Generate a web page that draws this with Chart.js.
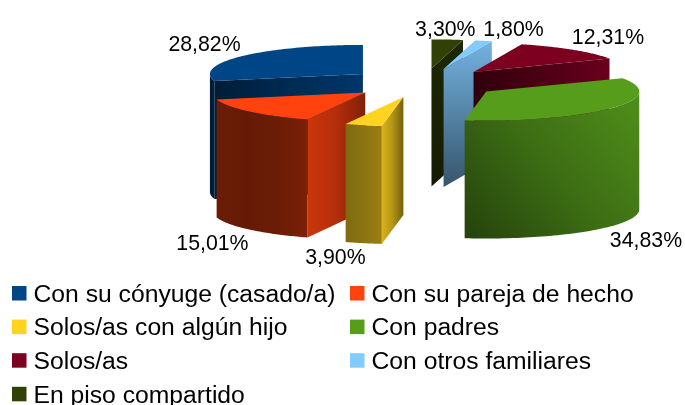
<!DOCTYPE html>
<html>
<head>
<meta charset="utf-8">
<script src="https://cdn.jsdelivr.net/npm/chart.js@4"></script>
<style>
html,body{margin:0;padding:0;background:#fff}
#wrap{position:relative;width:685px;height:405px}
</style>
</head>
<body>
<div id="wrap"><canvas id="c" width="685" height="405"></canvas></div>
<script>
const categories = ["Con su cónyuge (casado/a)","Con su pareja de hecho","Solos/as con algún hijo","Con padres","Solos/as","Con otros familiares","En piso compartido"];
const values = [28.82,15.01,3.90,34.83,12.31,1.80,3.30];
const colors = ["#004586","#ff420e","#ffd320","#579d1c","#7e0021","#83caff","#314004"];

const TILT = 0.19, DEPTH = 118, EXPLODE = 77, FONT = "Liberation Sans, Arial, sans-serif";
const arcShade = [
  {m:'h',s:[.40,.45]},
  {m:'h',s:[.42,.40,.42,.48]},
  {m:'h',s:[.50,.55,.60]},
  {m:'d',s:[.42,.70,.92]},
  {m:'h',s:[.5,.5]},
  {m:'v',s:[.9,.5]},
  {m:'v',s:[.6,.5]}
];
const cutShade = [
  {m:'h',s:[.42,.55,.68,.78]},
  {m:'h',s:[.80,.70,.50]},
  {m:'h',s:[.85,.70,.45]},
  {m:'h',s:[.5,.5]},
  {m:'h',s:[.38,.60,.85]},
  {m:'v',s:[.88,.42]},
  {m:'v',s:[.62,.42]}
];
const labelNudge = [[-38,-11],[-37,15],[-28,15],[35,15],[35,-12],[30,-11],[-2,-9]];

function shade(hex,f){
  const n=parseInt(hex.slice(1),16);
  return `rgb(${Math.round((n>>16&255)*f)},${Math.round((n>>8&255)*f)},${Math.round((n&255)*f)})`;
}
function fillPoly(ctx,pts,fill){
  ctx.beginPath();
  pts.forEach((p,i)=>i?ctx.lineTo(p[0],p[1]):ctx.moveTo(p[0],p[1]));
  ctx.closePath();ctx.fillStyle=fill;ctx.fill();
}
function grad(ctx,pts,spec,color){
  const xs=pts.map(p=>p[0]),ys=pts.map(p=>p[1]);
  const x0=Math.min(...xs),x1=Math.max(...xs),y0=Math.min(...ys),y1=Math.max(...ys);
  const g = spec.m==='h'?ctx.createLinearGradient(x0,0,x1,0)
          : spec.m==='v'?ctx.createLinearGradient(0,y0,0,y1)
          : ctx.createLinearGradient(x0,y1,x1,y0);
  spec.s.forEach((f,i)=>g.addColorStop(i/(spec.s.length-1),shade(color,f)));
  return g;
}

const pie3d = {
  id:'pie3d',
  beforeDatasetsDraw(chart){
    const ctx=chart.ctx, arcs=chart.getDatasetMeta(0).data;
    const order=arcs.map((a,i)=>i).sort((p,q)=>{
      const mid=a=>(a.startAngle+a.endAngle)/2;
      return Math.sin(mid(arcs[p]))-Math.sin(mid(arcs[q]));
    });
    ctx.save();
    order.forEach(i=>{
      const el=arcs[i], R=el.outerRadius, a0=el.startAngle, a1=el.endAngle, mid=(a0+a1)/2;
      const off=EXPLODE, color=colors[i];
      const P=(a,r)=>[el.x-(r*Math.cos(a)+off*Math.cos(mid)), el.y+TILT*(r*Math.sin(a)+off*Math.sin(mid))];
      const apex=P(0,0);
      const down=p=>[p[0],p[1]+DEPTH];
      const cut=a=>{const e=P(a,R);return [apex,e,down(e),down(apex)];};
      if(-Math.cos(a0)>1e-6){const q=cut(a0);fillPoly(ctx,q,grad(ctx,q,cutShade[i],color));}
      if(Math.cos(a1)>1e-6){const q=cut(a1);fillPoly(ctx,q,grad(ctx,q,cutShade[i],color));}
      const ranges=[[0,Math.PI],[2*Math.PI,3*Math.PI],[-2*Math.PI,-Math.PI]];
      ranges.forEach(([lo,hi])=>{
        const s=Math.max(a0,lo),e=Math.min(a1,hi);
        if(e<=s)return;
        const top=[];
        for(let k=0;k<=60;k++)top.push(P(s+(e-s)*k/60,R));
        const q=top.concat(top.slice().reverse().map(down));
        fillPoly(ctx,q,grad(ctx,q,arcShade[i],color));
      });
      const face=[apex];
      for(let k=0;k<=80;k++)face.push(P(a0+(a1-a0)*k/80,R));
      fillPoly(ctx,face,color);
    });
    ctx.restore();
    return false;
  },
  afterDraw(chart){
    const ctx=chart.ctx, arcs=chart.getDatasetMeta(0).data;
    ctx.save();
    ctx.fillStyle='#000';
    ctx.font=`21.3px ${FONT}`;ctx.textAlign='center';ctx.textBaseline='middle';
    arcs.forEach((el,i)=>{
      const mid=(el.startAngle+el.endAngle)/2,r=el.outerRadius+EXPLODE;
      const x=el.x-r*Math.cos(mid), sy=Math.sin(mid);
      const y=el.y+TILT*r*sy+(sy>0?DEPTH:0);
      ctx.fillText(values[i].toFixed(2).replace('.',',')+'%',x+labelNudge[i][0],y+labelNudge[i][1]);
    });
    ctx.font=`24.7px ${FONT}`;ctx.textAlign='left';
    categories.forEach((t,i)=>{
      const col=i%2,row=Math.floor(i/2);
      const x=12+col*338,y=293+row*33.6;
      ctx.fillStyle=colors[i];ctx.fillRect(x,y-7,14.5,14.5);
      ctx.fillStyle='#000';ctx.fillText(t,x+21.5,y+2);
    });
    ctx.restore();
  }
};

new Chart(document.getElementById('c'),{
  type:'pie',
  data:{labels:categories,datasets:[{data:values,backgroundColor:colors,borderWidth:0}]},
  options:{
    responsive:false,animation:false,radius:153,
    layout:{padding:{left:162,bottom:239}},
    plugins:{legend:{display:false},tooltip:{enabled:false}}
  },
  plugins:[pie3d]
});
</script>
</body>
</html>
